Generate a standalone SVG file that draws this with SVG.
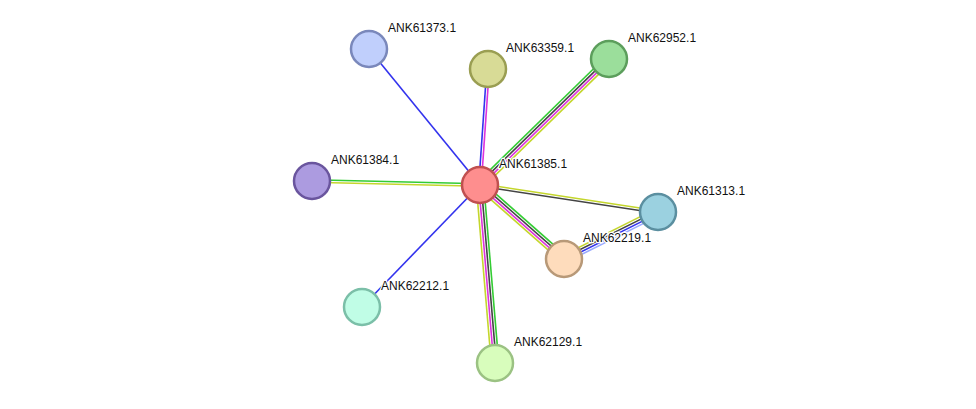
<svg xmlns="http://www.w3.org/2000/svg" width="976" height="409" viewBox="0 0 976 409">
<style>
.e line{stroke-width:1.6;fill:none}
.g{stroke:#33cc33}.k{stroke:#444444}.m{stroke:#dd33dd}.y{stroke:#c4d62c}.b{stroke:#3333ee}.lb{stroke:#99aaff}
.n circle{stroke-width:2.5}
text{font-family:"Liberation Sans",Arial,sans-serif;font-size:12px;fill:#111;paint-order:stroke;stroke:#fff;stroke-width:2.5px;stroke-linejoin:round}
</style>
<rect width="976" height="409" fill="#fff"/>
<g id="connectors" class="e">
<g transform="translate(480,185) rotate(-44.33)"><line class="g" x1="0" y1="-3.75" x2="180" y2="-3.75"/><line class="k" x1="0" y1="-1.25" x2="180" y2="-1.25"/><line class="m" x1="0" y1="1.25" x2="180" y2="1.25"/><line class="y" x1="0" y1="3.75" x2="180" y2="3.75"/></g>
<g transform="translate(480,185) rotate(-86.05)"><line class="b" x1="0" y1="-1.25" x2="116" y2="-1.25"/><line class="m" x1="0" y1="1.25" x2="116" y2="1.25"/></g>
<g transform="translate(480,185) rotate(-129.22)"><line class="b" x1="0" y1="0" x2="175" y2="0"/></g>
<g transform="translate(480,185) rotate(181.36)"><line class="g" x1="0" y1="1.25" x2="168" y2="1.25"/><line class="y" x1="0" y1="-1.25" x2="168" y2="-1.25"/></g>
<g transform="translate(480,185) rotate(8.62)"><line class="y" x1="0" y1="-1.25" x2="180" y2="-1.25"/><line class="k" x1="0" y1="1.25" x2="180" y2="1.25"/></g>
<g transform="translate(480,185) rotate(41.38)"><line class="g" x1="0" y1="-3.75" x2="112" y2="-3.75"/><line class="k" x1="0" y1="-1.25" x2="112" y2="-1.25"/><line class="m" x1="0" y1="1.25" x2="112" y2="1.25"/><line class="y" x1="0" y1="3.75" x2="112" y2="3.75"/></g>
<g transform="translate(480,185) rotate(134.04)"><line class="b" x1="0" y1="0" x2="170" y2="0"/></g>
<g transform="translate(480,185) rotate(85.18)"><line class="y" x1="0" y1="3.75" x2="178.6" y2="3.75"/><line class="m" x1="0" y1="1.25" x2="178.6" y2="1.25"/><line class="k" x1="0" y1="-1.25" x2="178.6" y2="-1.25"/><line class="g" x1="0" y1="-3.75" x2="178.6" y2="-3.75"/></g>
<g transform="translate(658,212) rotate(153.43)"><line class="y" x1="0" y1="3.75" x2="105" y2="3.75"/><line class="k" x1="0" y1="1.25" x2="105" y2="1.25"/><line class="b" x1="0" y1="-1.25" x2="105" y2="-1.25"/><line class="lb" x1="0" y1="-3.75" x2="105" y2="-3.75"/></g>
</g>
<g id="ANK61373" class="n"><circle cx="369" cy="49" r="18" fill="#c0cffc" stroke="#7a88bb"/><text x="388" y="32">ANK61373.1</text></g>
<g id="ANK63359" class="n"><circle cx="488" cy="69" r="18" fill="#d8db96" stroke="#9a9e52"/><text x="506" y="52">ANK63359.1</text></g>
<g id="ANK62952" class="n"><circle cx="609" cy="59" r="18" fill="#9bde9b" stroke="#5c9e5c"/><text x="628" y="42">ANK62952.1</text></g>
<g id="ANK61384" class="n"><circle cx="312" cy="181" r="18" fill="#ac9be0" stroke="#6a559e"/><text x="331" y="164">ANK61384.1</text></g>
<g id="ANK61313" class="n"><circle cx="658" cy="212" r="18" fill="#9bd1e0" stroke="#5b8fa0"/><text x="677" y="195">ANK61313.1</text></g>
<g id="ANK62219" class="n"><circle cx="564" cy="259" r="18" fill="#fedcbc" stroke="#b89978"/><text x="583" y="242">ANK62219.1</text></g>
<g id="ANK62212" class="n"><circle cx="362" cy="307" r="18" fill="#c0fde6" stroke="#7bbfa8"/><text x="381" y="290">ANK62212.1</text></g>
<g id="ANK62129" class="n"><circle cx="495" cy="363" r="18" fill="#d8fdbc" stroke="#9bc283"/><text x="514" y="346">ANK62129.1</text></g>
<g id="ANK61385" class="n"><circle cx="480" cy="185" r="18" fill="#fe8e8e" stroke="#c05050"/><text x="499" y="168">ANK61385.1</text></g>
</svg>
